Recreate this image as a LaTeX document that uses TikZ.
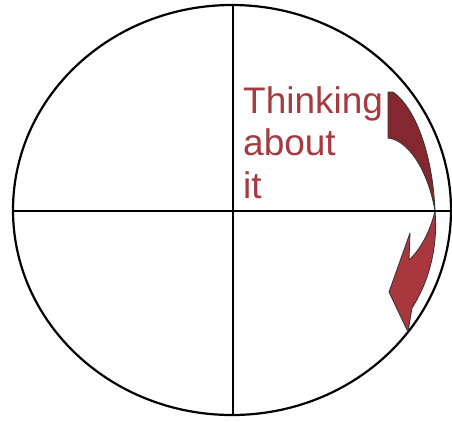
\documentclass[tikz,border=0pt]{standalone}
\usepackage{fontspec}
\setmainfont{Liberation Sans}
\usetikzlibrary{shapes.geometric}
\definecolor{darkred}{HTML}{85272F}
\definecolor{lightred}{HTML}{A8373E}
\definecolor{textred}{HTML}{A63A40}
\begin{document}
\begin{tikzpicture}[x=1pt,y=-1pt,
  axis/.style={line width=2.2pt,black},
  ribbon/.style={draw=black!80,line width=0.8pt,line join=round}]
\useasboundingbox (0,0) rectangle (452,421);
\node[draw,line width=2.2pt,ellipse,minimum width=438pt,minimum height=410pt,inner sep=0pt,outer sep=0pt] (oval) at (232,210) {};
\coordinate (X) at (435,211);
% upper dark part
\fill[darkred] (388,92) -- (393,92) .. controls (418,110) and (433,160) .. (X)
  .. controls (428,170) and (408,140) .. (388,138) -- cycle;
% lower light part
\fill[lightred] (X) .. controls (438,245) and (430,280) .. (412,308)
  -- (408,332) -- (389,292) -- (410,233) -- (409,260)
  .. controls (420,250) and (430,232) .. (X) -- cycle;
\draw[ribbon] (388,92) -- (393,92) .. controls (418,110) and (433,160) .. (X)
  .. controls (438,245) and (430,280) .. (412,308)
  -- (408,332) -- (389,292) -- (410,233) -- (409,260)
  .. controls (420,250) and (430,232) .. (X)
  .. controls (428,170) and (408,140) .. (388,138) -- cycle;
\coordinate (hl) at (13,211);
\coordinate (hr) at (452,211);
\coordinate (vt) at (233,5);
\coordinate (vb) at (233,416);
\draw[axis] (hl) -- (hr);
\draw[axis] (vt) -- (vb);
\node[anchor=north west,inner sep=0pt,align=left,text=textred,
  font=\fontsize{37}{42.5}\selectfont] (txt) at (243,86) {Thinking\\about\\it};
\end{tikzpicture}
\end{document}
